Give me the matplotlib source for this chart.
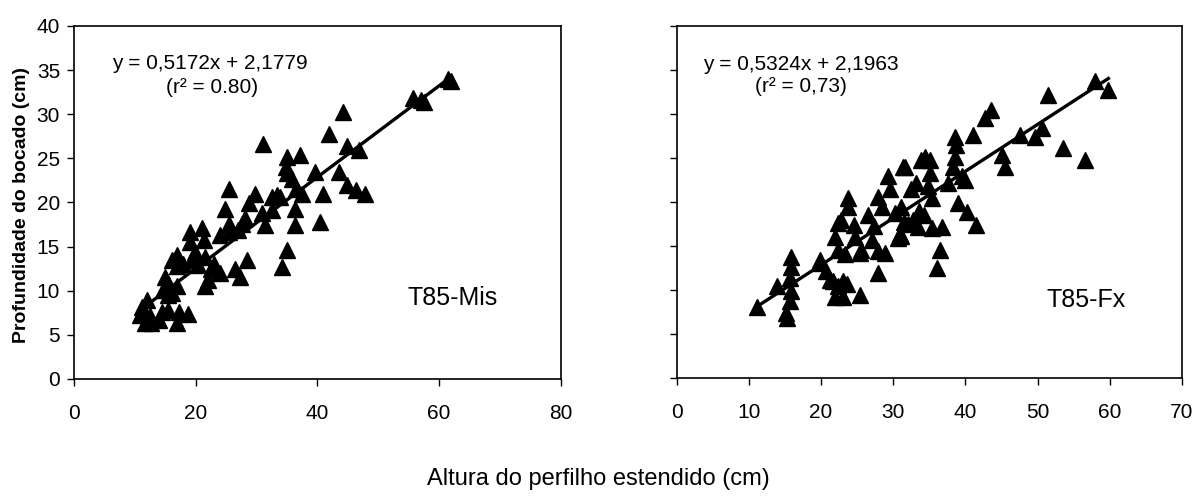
import matplotlib
matplotlib.use("Agg")
from matplotlib import pyplot as plt

plt.rcParams['font.family'] = ['Liberation Sans', 'DejaVu Sans']

# T85-Mis: altura do perfilho estendido (x) vs profundidade do bocado (y)
mis_x = [61.5, 62.0, 55.8, 57.0, 57.5, 44.3, 42.0, 44.8, 46.9, 39.6,
         43.5, 44.8, 46.4, 47.9, 40.9, 40.5, 37.2, 35.0, 34.8, 35.0,
         35.8, 36.5, 37.5, 33.9, 36.3, 36.3, 35.0, 34.2, 31.0, 25.5,
         29.8, 32.5, 33.3, 24.8, 28.7, 28.1, 30.9, 31.4, 32.5, 25.4,
         24.0, 25.4, 27.0, 27.6, 19.1, 21.0, 21.3, 19.1, 19.9, 16.9,
         19.4, 21.5, 23.2, 22.1, 24.0, 21.5, 20.4, 26.5, 28.4, 27.3,
         16.1, 17.0, 15.0, 15.5, 14.7, 16.1, 11.1, 12.0, 10.9, 12.5,
         11.7, 14.4, 15.5, 16.9, 17.2, 18.8, 13.9, 15.5, 16.9, 23.0,
         22.5, 18.0, 12.7]
mis_y = [34.0, 33.8, 31.8, 31.6, 31.4, 30.3, 27.8, 26.4, 25.9, 23.4,
         23.4, 22.0, 21.4, 21.0, 21.0, 17.8, 25.4, 25.1, 24.0, 23.3,
         22.7, 21.5, 21.0, 20.6, 19.3, 17.4, 14.6, 12.7, 26.6, 21.5,
         21.0, 20.6, 20.8, 19.3, 19.9, 18.2, 18.8, 17.4, 19.1, 17.6,
         16.3, 16.7, 16.9, 17.6, 16.7, 17.1, 15.7, 15.5, 14.4, 14.0,
         13.5, 13.8, 12.3, 11.2, 12.0, 10.5, 12.9, 12.5, 13.5, 11.6,
         13.5, 12.8, 11.6, 10.8, 10.1, 9.7, 8.2, 8.9, 7.2, 7.1,
         6.3, 7.6, 7.8, 6.3, 7.6, 7.4, 6.7, 9.5, 10.5, 13.0,
         12.5, 13.0, 6.4]

# T85-Fx
fx_x = [57.9, 59.8, 51.5, 43.6, 42.7, 41.1, 38.5, 38.7, 38.5, 38.3,
        50.6, 49.6, 47.5, 53.5, 56.5, 45.0, 45.5, 39.9, 39.5, 37.6,
        39.0, 40.2, 41.5, 36.5, 36.0, 34.4, 35.1, 31.6, 35.1, 33.2,
        34.8, 35.3, 36.7, 35.3, 32.8, 31.5, 31.1, 34.2, 11.1, 13.9,
        15.2, 15.3, 15.9, 15.9, 15.7, 15.9, 15.7, 19.8, 20.7, 21.2,
        22.4, 21.9, 23.1, 23.6, 25.4, 23.8, 23.8, 22.4, 21.9, 22.4,
        23.3, 24.5, 24.7, 25.6, 27.9, 28.8, 27.9, 27.9, 27.3, 28.4,
        29.3, 31.4, 30.2, 31.1, 30.9, 32.1, 32.5, 33.9, 33.6, 30.7,
        33.4, 22.8, 27.0, 25.4, 19.8, 21.7, 23.1, 29.5, 26.5]
fx_y = [33.7, 32.7, 32.2, 30.5, 29.5, 27.6, 27.4, 26.5, 25.1, 24.0,
        28.4, 27.4, 27.6, 26.1, 24.8, 25.3, 24.0, 22.5, 23.0, 22.1,
        19.9, 18.9, 17.4, 14.5, 12.5, 25.1, 24.8, 24.0, 23.3, 22.1,
        21.8, 20.4, 17.2, 17.0, 18.0, 17.7, 16.1, 18.5, 8.1, 10.4,
        7.4, 6.8, 13.8, 12.6, 11.4, 9.9, 8.7, 13.4, 12.2, 11.1,
        10.4, 9.2, 9.2, 10.7, 9.4, 20.4, 19.4, 17.6, 16.0, 14.5,
        14.1, 17.4, 16.0, 14.5, 14.4, 14.2, 11.9, 20.6, 17.3, 19.4,
        22.9, 24.0, 18.7, 19.4, 16.4, 17.5, 21.5, 24.8, 19.0, 15.9,
        17.2, 18.0, 15.7, 14.2, 13.1, 11.0, 11.0, 21.5, 18.5]

mis_fit = (0.5172, 2.1779)
fx_fit = (0.5324, 2.1963)

fig = plt.figure(figsize=(11.97, 4.99), dpi=100)
ax1 = fig.add_axes([0.0618, 0.2405, 0.4066, 0.7075])
ax2 = fig.add_axes([0.5653, 0.2425, 0.4222, 0.7055])


def draw_panel(ax, xs, ys, fit, xmax, xstep):
    ax.plot(xs, ys, linestyle='none', marker='^', ms=11, color='black',
            markeredgecolor='black')
    x0, x1 = min(xs), max(xs)
    ax.plot([x0, x1], [fit[0] * x0 + fit[1], fit[0] * x1 + fit[1]],
            color='black', lw=2.4)
    ax.set_xlim(0, xmax)
    ax.set_ylim(0, 40)
    ax.set_xticks(range(0, xmax + 1, xstep))
    ax.set_yticks(range(0, 41, 5))
    for s in ax.spines.values():
        s.set_linewidth(1.2)
        s.set_color('black')
    ax.tick_params(direction='out', length=5, width=1, labelsize=15,
                   colors='black')
    ax.tick_params(axis='x', pad=13)
    ax.tick_params(axis='y', pad=5)


draw_panel(ax1, mis_x, mis_y, mis_fit, 80, 20)
draw_panel(ax2, fx_x, fx_y, fx_fit, 70, 10)
ax2.set_yticklabels([])

ax1.text(22.4, 35.8, 'y = 0,5172x + 2,1779', fontsize=15, ha='center', va='center')
ax1.text(22.7, 33.0, '(r² = 0.80)', fontsize=15, ha='center', va='center')
ax1.text(62.2, 9.2, 'T85-Mis', fontsize=18, ha='center', va='center')

ax2.text(17.2, 35.6, 'y = 0,5324x + 2,1963', fontsize=15, ha='center', va='center')
ax2.text(17.2, 33.1, '(r² = 0,73)', fontsize=15, ha='center', va='center')
ax2.text(56.7, 8.9, 'T85-Fx', fontsize=18, ha='center', va='center')

fig.text(22 / 1197, 1 - 205 / 499, 'Profundidade do bocado (cm)', rotation=90,
         fontsize=14, fontweight='bold', ha='center', va='center')
fig.text(0.5, 1 - 479 / 499, 'Altura do perfilho estendido (cm)', fontsize=17,
         ha='center', va='center')

fig.savefig('out.png', dpi=100)
